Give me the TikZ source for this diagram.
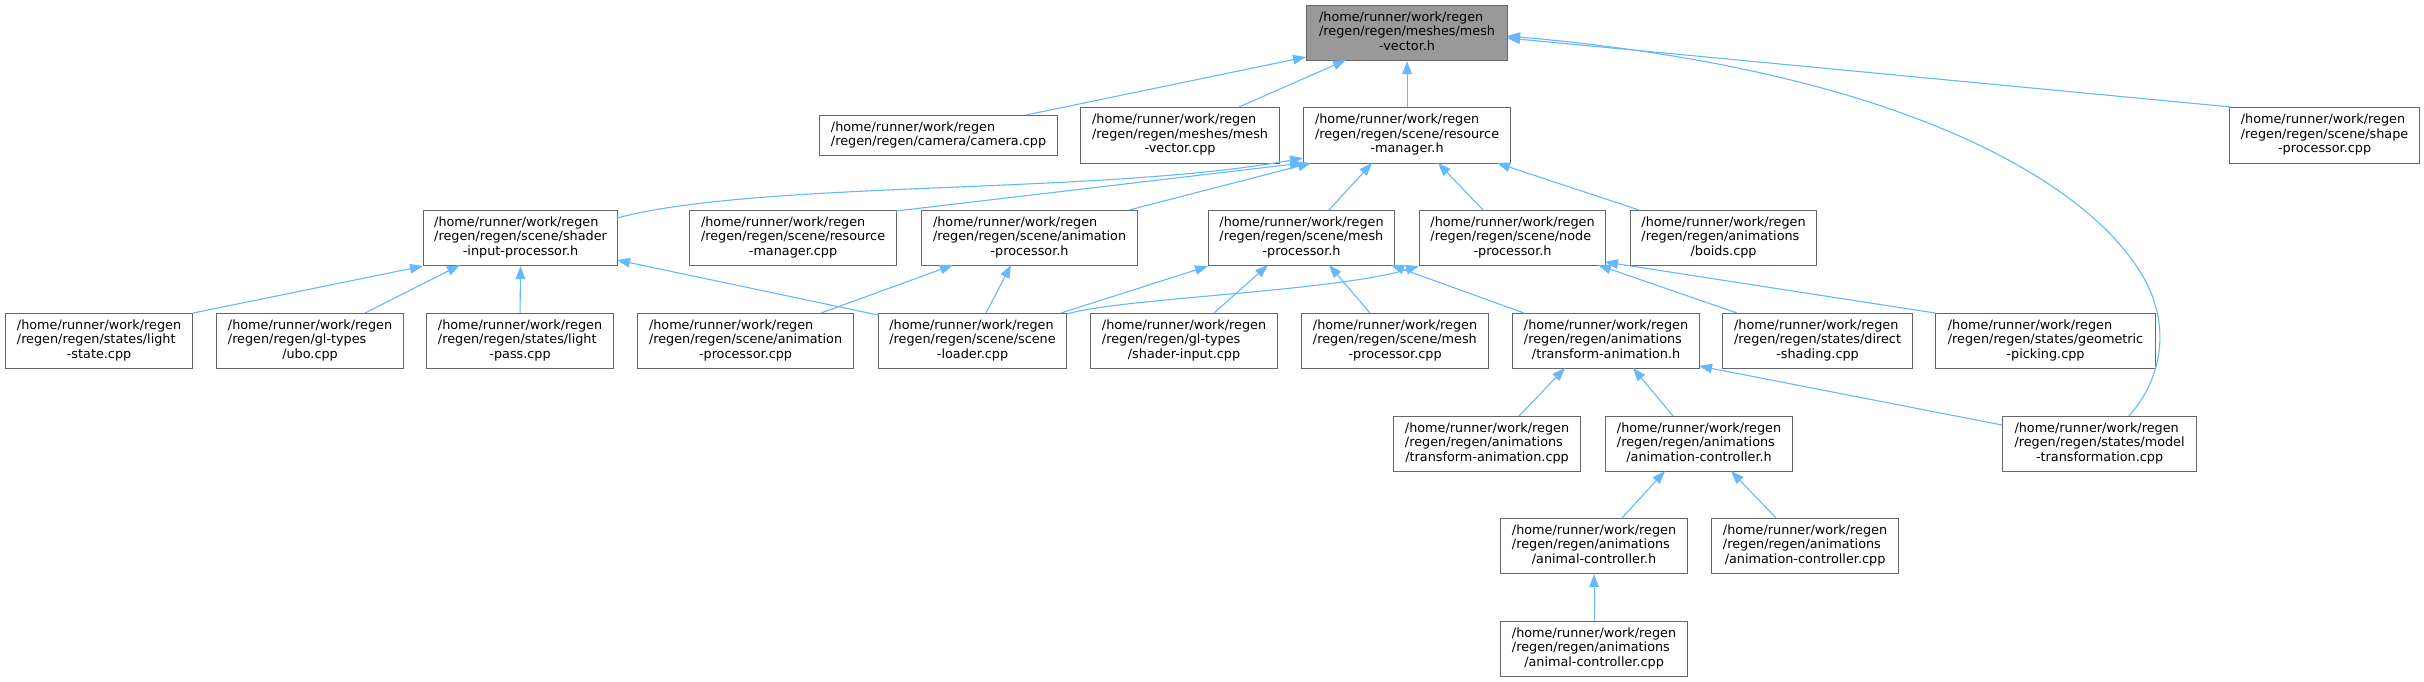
\documentclass[tikz,border=0pt]{standalone}
\usepackage{fontspec}
\setmainfont{DejaVu Sans}
\usetikzlibrary{arrows.meta,calc}
\definecolor{edgec}{HTML}{63B8FF}
\definecolor{bordc}{HTML}{666666}
\definecolor{rootc}{HTML}{999999}
\newcommand{\lbl}[3]{%
  \setbox0=\hbox{\strut#1}\setbox2=\hbox{\strut#2}\setbox4=\hbox{\strut#3}%
  \dimen0=\wd0 \ifdim\wd2>\dimen0 \dimen0=\wd2 \fi\ifdim\wd4>\dimen0 \dimen0=\wd4 \fi
  \vbox{\offinterlineskip\hbox to\dimen0{\box0\hfil}\hbox to\dimen0{\box2\hfil}\hbox to\dimen0{\hfil\box4\hfil}}}
\newcommand{\lblb}[2]{%
  \setbox0=\hbox{\strut#1}\setbox2=\hbox{\strut#2}%
  \dimen0=\wd0 \ifdim\wd2>\dimen0 \dimen0=\wd2 \fi
  \vbox{\offinterlineskip\hbox to\dimen0{\box0\hfil}\hbox to\dimen0{\hfil\box2\hfil}}}
\begin{document}
\begin{tikzpicture}[x=1pt,y=-1pt,font=\fontsize{12.8}{14.5}\selectfont,
  box/.style={draw=bordc,fill=white,line width=1.1pt,inner sep=0pt,anchor=north west},
  bthree/.style={box,minimum height=55pt},
  dep/.style={draw=edgec,line width=1.1pt,-{Triangle[length=13pt,width=9.5pt]}}]
\useasboundingbox[fill=white] (0,0) rectangle (2424,681);
\def\H{/home/runner/work/regen}
% row 0
\node[bthree,minimum width=201pt,fill=rootc] (main) at (1306,5) {\lbl{\H}{/regen/regen/meshes/mesh}{-vector.h}};
% row 1
\node[box,minimum width=238pt,minimum height=40pt] (camera) at (819,115) {\lblb{\H}{/regen/regen/camera/camera.cpp}};
\node[bthree,minimum width=199pt,minimum height=56pt] (meshvcpp) at (1080,107) {\lbl{\H}{/regen/regen/meshes/mesh}{-vector.cpp}};
\node[bthree,minimum width=207pt,minimum height=56pt] (resmgrh) at (1303,107) {\lbl{\H}{/regen/regen/scene/resource}{-manager.h}};
\node[bthree,minimum width=190pt,minimum height=56pt] (shape) at (2229,107) {\lbl{\H}{/regen/regen/scene/shape}{-processor.cpp}};
% row 2
\node[bthree,minimum width=194pt] (sip) at (423,210) {\lbl{\H}{/regen/regen/scene/shader}{-input-processor.h}};
\node[bthree,minimum width=207pt] (resmgrcpp) at (689,210) {\lbl{\H}{/regen/regen/scene/resource}{-manager.cpp}};
\node[bthree,minimum width=216pt] (animproch) at (921,210) {\lbl{\H}{/regen/regen/scene/animation}{-processor.h}};
\node[bthree,minimum width=186pt] (meshproch) at (1208,210) {\lbl{\H}{/regen/regen/scene/mesh}{-processor.h}};
\node[bthree,minimum width=186pt] (nodeproch) at (1419,210) {\lbl{\H}{/regen/regen/scene/node}{-processor.h}};
\node[bthree,minimum width=186pt] (boids) at (1630,210) {\lbl{\H}{/regen/regen/animations}{/boids.cpp}};
% row 3
\node[bthree,minimum width=187pt] (lightstate) at (5,313) {\lbl{\H}{/regen/regen/states/light}{-state.cpp}};
\node[bthree,minimum width=187pt] (ubo) at (216,313) {\lbl{\H}{/regen/regen/gl-types}{/ubo.cpp}};
\node[bthree,minimum width=187pt] (lightpass) at (426,313) {\lbl{\H}{/regen/regen/states/light}{-pass.cpp}};
\node[bthree,minimum width=216pt] (animproccpp) at (637,313) {\lbl{\H}{/regen/regen/scene/animation}{-processor.cpp}};
\node[bthree,minimum width=188pt] (sceneloader) at (878,313) {\lbl{\H}{/regen/regen/scene/scene}{-loader.cpp}};
\node[bthree,minimum width=187pt] (shaderinput) at (1090,313) {\lbl{\H}{/regen/regen/gl-types}{/shader-input.cpp}};
\node[bthree,minimum width=187pt] (meshproccpp) at (1301,313) {\lbl{\H}{/regen/regen/scene/mesh}{-processor.cpp}};
\node[bthree,minimum width=187pt] (transanimh) at (1512,313) {\lbl{\H}{/regen/regen/animations}{/transform-animation.h}};
\node[bthree,minimum width=190pt] (direct) at (1722,313) {\lbl{\H}{/regen/regen/states/direct}{-shading.cpp}};
\node[bthree,minimum width=220pt] (geopick) at (1935,313) {\lbl{\H}{/regen/regen/states/geometric}{-picking.cpp}};
% row 4
\node[bthree,minimum width=187pt] (transanimcpp) at (1393,416) {\lbl{\H}{/regen/regen/animations}{/transform-animation.cpp}};
\node[bthree,minimum width=187pt] (animctrlh) at (1605,416) {\lbl{\H}{/regen/regen/animations}{/animation-controller.h}};
\node[bthree,minimum width=194pt] (modeltrans) at (2002,416) {\lbl{\H}{/regen/regen/states/model}{-transformation.cpp}};
% row 5
\node[bthree,minimum width=187pt] (animalctrlh) at (1500,518) {\lbl{\H}{/regen/regen/animations}{/animal-controller.h}};
\node[bthree,minimum width=187pt] (animctrlcpp) at (1711,518) {\lbl{\H}{/regen/regen/animations}{/animation-controller.cpp}};
% row 6
\node[bthree,minimum width=187pt] (animalctrlcpp) at (1500,621) {\lbl{\H}{/regen/regen/animations}{/animal-controller.cpp}};
% edges to main
\draw[dep] ($(camera.north west)+(207,0)$) -- ($(main.north west)+(0,52)$);
\draw[dep] ($(meshvcpp.north west)+(159,0)$) -- ($(main.north west)+(40,55)$);
\draw[dep] (resmgrh.north) -- (main.south);
\draw[dep] ($(shape.north west)+(2,0)$) -- ($(main.north west)+(201,33)$);
\draw[dep] ($(modeltrans.north west)+(127,0)$) .. controls (2165,375) and (2172,318) .. (2137,267) .. controls (2080,180) and (1900,70) .. ($(main.north west)+(201,31)$);
% edges to resource-manager.h
\draw[dep] ($(sip.north west)+(194,8)$) .. controls (760,180) and (1100,195) .. ($(resmgrh.north west)+(0,51)$);
\draw[dep] ($(resmgrcpp.north west)+(207,1)$) -- ($(resmgrh.north west)+(0,56)$);
\draw[dep] ($(animproch.north west)+(208,0)$) -- ($(resmgrh.north west)+(8,56)$);
\draw[dep] ($(meshproch.north west)+(121,0)$) -- ($(resmgrh.north west)+(69,56)$);
\draw[dep] ($(nodeproch.north west)+(64,0)$) -- ($(resmgrh.north west)+(135,56)$);
\draw[dep] ($(boids.north west)+(9,0)$) -- ($(resmgrh.north west)+(194,56)$);
% edges to shader-input-processor.h
\draw[dep] (lightstate.north east) -- (sip.south west);
\draw[dep] ($(ubo.north west)+(149,0)$) -- ($(sip.north west)+(37,55)$);
\draw[dep] (lightpass.north) -- (sip.south);
\draw[dep] ($(sceneloader.north west)+(0,2)$) -- ($(sip.north west)+(194,50)$);
% edges to animation-processor.h
\draw[dep] ($(animproccpp.north west)+(184,0)$) -- ($(animproch.north west)+(32,55)$);
\draw[dep] ($(sceneloader.north west)+(108,0)$) -- ($(animproch.north west)+(90,55)$);
% edges to mesh-processor.h
\draw[dep] ($(sceneloader.north west)+(183,0)$) -- (meshproch.south west);
\draw[dep] ($(shaderinput.north west)+(124,0)$) -- ($(meshproch.north west)+(60,55)$);
\draw[dep] ($(meshproccpp.north west)+(69,0)$) -- ($(meshproch.north west)+(121,55)$);
\draw[dep] ($(transanimh.north west)+(12,0)$) -- ($(meshproch.north west)+(183,55)$);
% edges to node-processor.h
\draw[dep] ($(sceneloader.north east)+(0,1)$) .. controls (1120,298) and (1330,292) .. (nodeproch.south west);
\draw[dep] ($(direct.north west)+(15,0)$) -- ($(nodeproch.north west)+(179,55)$);
\draw[dep] (geopick.north west) -- ($(nodeproch.north west)+(186,52)$);
% edges to transform-animation.h
\draw[dep] ($(transanimcpp.north west)+(126,0)$) -- ($(transanimh.north west)+(53,55)$);
\draw[dep] ($(animctrlh.north west)+(68,0)$) -- ($(transanimh.north west)+(121,55)$);
\draw[dep] ($(modeltrans.north west)+(0,9)$) -- ($(transanimh.north west)+(187,53)$);
% edges to animation-controller.h
\draw[dep] ($(animalctrlh.north west)+(122,0)$) -- ($(animctrlh.north west)+(60,55)$);
\draw[dep] ($(animctrlcpp.north west)+(65,0)$) -- ($(animctrlh.north west)+(126,55)$);
% edge to animal-controller.h
\draw[dep] (animalctrlcpp.north) -- (animalctrlh.south);
\end{tikzpicture}
\end{document}
